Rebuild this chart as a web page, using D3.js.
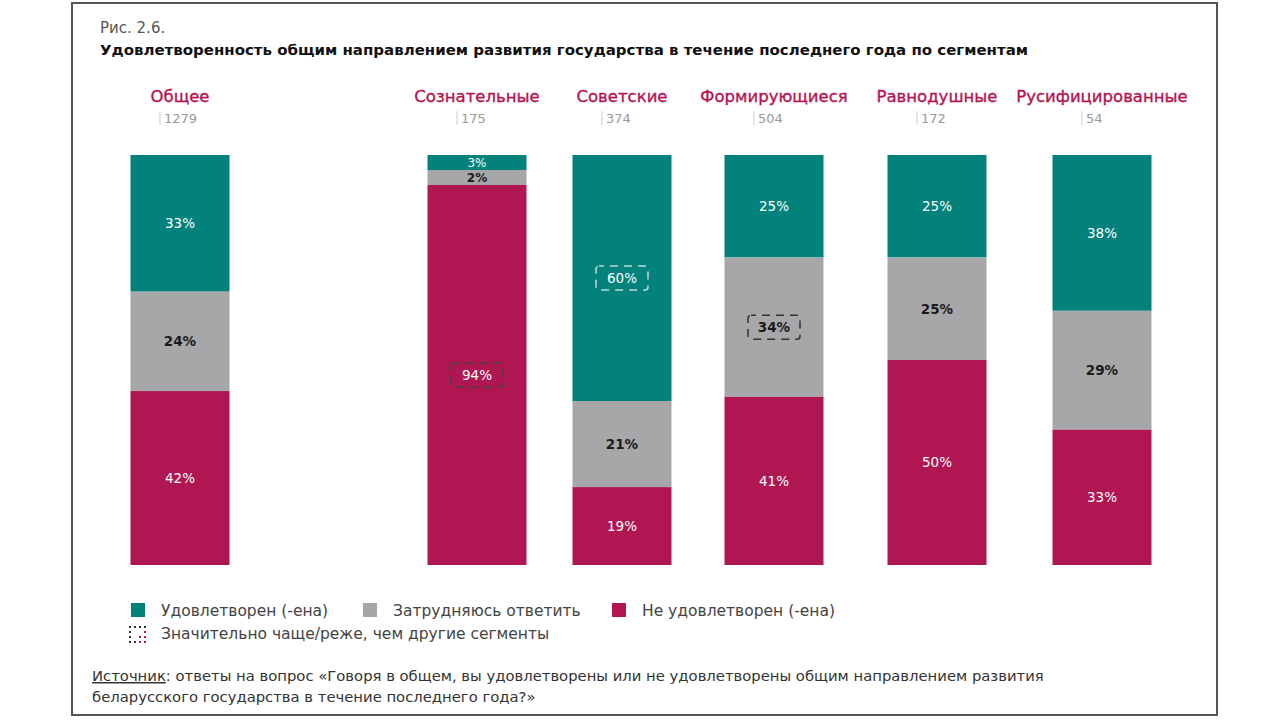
<!DOCTYPE html>
<html>
<head>
<meta charset="utf-8">
<script src="https://cdn.jsdelivr.net/npm/d3@7/dist/d3.min.js"></script>
<style>
  html, body { margin: 0; padding: 0; background: #fff; }
  svg { display: block; }
  text { font-family: "DejaVu Sans", "Noto Sans", sans-serif; }
</style>
</head>
<body>
<svg id="chart" width="1280" height="720"></svg>
<script>
// ---- data ----
const categories = ["Общее", "Сознательные", "Советские", "Формирующиеся", "Равнодушные", "Русифицированные"];
const sampleSizes = [1279, 175, 374, 504, 172, 54];
const satisfied    = [33, 3, 60, 25, 25, 38];
const unsure       = [24, 2, 21, 34, 25, 29];
const notSatisfied = [42, 94, 19, 41, 50, 33];
// which cell is significantly different: [categoryIndex, seriesKey]
const highlighted = [[1, "notSatisfied"], [2, "satisfied"], [3, "unsure"]];
const seriesKeys = ["satisfied", "unsure", "notSatisfied"];
const seriesNames = ["Удовлетворен (-ена)", "Затрудняюсь ответить", "Не удовлетворен (-ена)"];
const legendNote = "Значительно чаще/реже, чем другие сегменты";
const figLabel = "Рис. 2.6.";
const title = "Удовлетворенность общим направлением развития государства в течение последнего года по сегментам";
const sourceLabel = "Источник";
const sourceLine1 = ": ответы на вопрос «Говоря в общем, вы удовлетворены или не удовлетворены общим направлением развития";
const sourceLine2 = "беларусского государства в течение последнего года?»";

// ---- styles ----
const colors = { satisfied: "#02827b", unsure: "#a7a7aa", notSatisfied: "#b01652" };
const labelColors = { satisfied: "#ffffff", unsure: "#1a1a1a", notSatisfied: "#ffffff" };
const boxColors = { satisfied: "#c9d6d5", unsure: "#333333", notSatisfied: "#444444" };
const accent = "#b5134f";

const svg = d3.select("#chart");

// frame
svg.append("rect").attr("x", 72).attr("y", 3).attr("width", 1145).attr("height", 712)
  .attr("fill", "none").attr("stroke", "#555").attr("stroke-width", 2);

// titles
svg.append("text").attr("x", 100).attr("y", 33).attr("font-size", 15)
  .attr("fill", "#555").text(figLabel);
svg.append("text").attr("x", 100).attr("y", 55).attr("font-size", 14)
  .attr("font-weight", 700).attr("fill", "#111")
  .attr("textLength", 928).attr("lengthAdjust", "spacingAndGlyphs").text(title);

// data table
const rows = categories.map((c, i) => ({
  cat: c, n: sampleSizes[i],
  satisfied: satisfied[i], unsure: unsure[i], notSatisfied: notSatisfied[i]
}));

const barW = 99;
const barTop = 155, barBottom = 565, minSeg = 15;
const x = d3.scaleOrdinal(categories, [180, 477, 622, 774, 937, 1102]);
const y = d3.scaleLinear().domain([0, 1]).range([barTop, barBottom]);

// segments: proportional heights with a small minimum so tiny shares stay readable
const segs = [];
rows.forEach(r => {
  const total = d3.sum(seriesKeys, k => r[k]);
  let px = seriesKeys.map(k => y(r[k] / total) - barTop);
  const small = px.map(p => p < minSeg);
  const deficit = d3.sum(px, (p, i) => small[i] ? minSeg - p : 0);
  const bigSum = d3.sum(px, (p, i) => small[i] ? 0 : p);
  px = px.map((p, i) => small[i] ? minSeg : p - deficit * p / bigSum);
  let y0 = barTop;
  seriesKeys.forEach((k, i) => {
    segs.push({ cat: r.cat, key: k, value: r[k], y0, y1: y0 + px[i] });
    y0 += px[i];
  });
});

const g = svg.append("g");
g.selectAll("rect.seg").data(segs).join("rect").attr("class", "seg")
  .attr("x", d => x(d.cat) - barW / 2)
  .attr("y", d => d.y0)
  .attr("width", barW)
  .attr("height", d => d.y1 - d.y0)
  .attr("fill", d => colors[d.key]);
g.selectAll("text.lab").data(segs).join("text").attr("class", "lab")
  .attr("x", d => x(d.cat))
  .attr("y", d => (d.y0 + d.y1) / 2)
  .attr("dy", "0.36em")
  .attr("text-anchor", "middle")
  .attr("font-size", d => (d.value < 5 ? 12 : 13.5))
  .attr("font-weight", d => d.key === "unsure" ? 700 : 400)
  .attr("fill", d => labelColors[d.key])
  .text(d => d.value + "%");

// highlight boxes
highlighted.forEach(([ci, key]) => {
  const d = segs.find(s => s.cat === categories[ci] && s.key === key);
  const cx = x(d.cat), cy = (d.y0 + d.y1) / 2;
  g.append("rect")
    .attr("x", cx - 26).attr("y", cy - 12).attr("width", 52).attr("height", 24)
    .attr("rx", 3).attr("fill", "none")
    .attr("stroke", boxColors[key]).attr("stroke-width", 1.5)
    .attr("stroke-dasharray", "8 6").attr("stroke-dashoffset", 3);
});

// headers
const head = svg.append("g");
head.selectAll(null).data(rows).join("text")
  .attr("x", d => x(d.cat)).attr("y", 102)
  .attr("text-anchor", "middle").attr("font-size", 16.5)
  .attr("fill", accent).attr("stroke", accent).attr("stroke-width", 0.35)
  .text(d => d.cat);
const nGroup = head.selectAll(null).data(rows).join("g")
  .attr("transform", d => `translate(${x(d.cat)},0)`);
nGroup.append("line").attr("x1", -20).attr("x2", -20).attr("y1", 111).attr("y2", 125)
  .attr("stroke", "#ccc").attr("stroke-width", 1);
nGroup.append("text").attr("x", -16).attr("y", 123)
  .attr("font-size", 13).attr("fill", "#999").text(d => d.n);

// legend
const legend = svg.append("g");
const legendX = [131, 363, 612];
seriesKeys.forEach((k, i) => {
  legend.append("rect").attr("x", legendX[i]).attr("y", 603).attr("width", 14).attr("height", 14)
    .attr("fill", colors[k]);
  legend.append("text").attr("x", legendX[i] + 30).attr("y", 616)
    .attr("font-size", 15.5).attr("fill", "#444").text(seriesNames[i]);
});
// dotted icon
const dots = [0, 5, 10, 15];
dots.forEach((ry, ri) => dots.forEach((rx, ci) => {
  if ((ri === 1 || ri === 2) && (ci === 1 || ci === 2) && !(ri === 2 && ci === 2)) return;
  const red = ci >= 2 && ri >= 1;
  legend.append("rect").attr("x", 129 + rx).attr("y", 626 + ry).attr("width", 2).attr("height", 2)
    .attr("fill", red ? accent : "#333");
}));
legend.append("text").attr("x", 161).attr("y", 639)
  .attr("font-size", 15.5).attr("fill", "#444").text(legendNote);

// source
const src = svg.append("text").attr("x", 92).attr("y", 681).attr("font-size", 14.8).attr("fill", "#333");
src.append("tspan").attr("text-decoration", "underline").text(sourceLabel);
src.append("tspan").text(sourceLine1);
svg.append("text").attr("x", 92).attr("y", 702).attr("font-size", 14.8).attr("fill", "#333").text(sourceLine2);
</script>
</body>
</html>
